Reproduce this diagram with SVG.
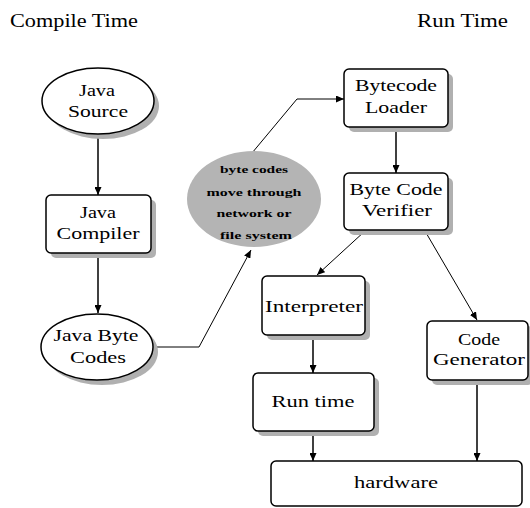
<svg xmlns="http://www.w3.org/2000/svg" width="530" height="508" viewBox="0 0 530 508">
<style>
text{font-family:"Liberation Serif","DejaVu Serif","Times New Roman",serif;font-size:17px;fill:#000;text-anchor:middle}
.hd{font-size:18px;text-anchor:start}
.sm{font-size:10px;font-weight:bold}
.box{fill:#fff;stroke:#000;stroke-width:1.5}
.sh{fill:#b0b0b0;stroke:none}
.cloud{fill:#b4b4b4;stroke:none}
.c{fill:none;stroke:#000;stroke-width:1.5}
.d{fill:none;stroke:#000;stroke-width:1}
</style>
<defs>
<marker id="ah" markerUnits="userSpaceOnUse" markerWidth="8" markerHeight="7" refX="8" refY="3.5" orient="auto">
<path d="M0,0 L8,3.5 L0,7 z" fill="#000"/>
</marker>
</defs>
<rect width="530" height="508" fill="#fff"/>
<text class="hd" x="10" y="27" textLength="128" lengthAdjust="spacingAndGlyphs">Compile Time</text>
<text class="hd" x="417" y="27" textLength="91" lengthAdjust="spacingAndGlyphs">Run Time</text>

<g id="connectors">
<line class="c" x1="98" y1="135" x2="98" y2="195" marker-end="url(#ah)"/>
<line class="c" x1="98" y1="253" x2="98" y2="313" marker-end="url(#ah)"/>
<polyline class="d" points="154,347 199,347 251,250" marker-end="url(#ah)"/>
<polyline class="d" points="252,153 297,99 344,99" marker-end="url(#ah)"/>
<line class="c" x1="396" y1="127" x2="396" y2="173" marker-end="url(#ah)"/>
<line class="d" x1="365" y1="231" x2="317" y2="275" marker-end="url(#ah)"/>
<line class="d" x1="425" y1="231" x2="477" y2="320" marker-end="url(#ah)"/>
<line class="c" x1="313" y1="335" x2="313" y2="373" marker-end="url(#ah)"/>
<line class="c" x1="313" y1="431" x2="313" y2="461" marker-end="url(#ah)"/>
<line class="c" x1="477" y1="380" x2="477" y2="461" marker-end="url(#ah)"/>
</g>

<g id="java-source">
<ellipse class="sh" cx="103" cy="106" rx="56" ry="33"/>
<ellipse class="box" cx="98" cy="101" rx="56" ry="33"/>
<text x="97" y="96" textLength="36" lengthAdjust="spacingAndGlyphs">Java</text>
<text x="98" y="117" textLength="60" lengthAdjust="spacingAndGlyphs">Source</text>
</g>

<g id="java-compiler">
<rect class="sh" x="51" y="200" width="105" height="58" rx="5"/>
<rect class="box" x="46" y="195" width="105" height="58" rx="5"/>
<text x="98" y="218" textLength="36" lengthAdjust="spacingAndGlyphs">Java</text>
<text x="98" y="239" textLength="83" lengthAdjust="spacingAndGlyphs">Compiler</text>
</g>

<g id="java-byte-codes">
<ellipse class="sh" cx="102" cy="352" rx="56" ry="33"/>
<ellipse class="box" cx="97" cy="347" rx="56" ry="33"/>
<text x="96" y="341" textLength="85" lengthAdjust="spacingAndGlyphs">Java Byte</text>
<text x="98" y="363" textLength="56" lengthAdjust="spacingAndGlyphs">Codes</text>
</g>

<g id="network">
<ellipse class="cloud" cx="254" cy="199" rx="67" ry="48"/>
<text class="sm" x="254" y="173" textLength="68" lengthAdjust="spacingAndGlyphs">byte codes</text>
<text class="sm" x="254" y="196" textLength="95" lengthAdjust="spacingAndGlyphs">move through</text>
<text class="sm" x="254" y="217" textLength="75" lengthAdjust="spacingAndGlyphs">network or</text>
<text class="sm" x="256" y="239" textLength="72" lengthAdjust="spacingAndGlyphs">file system</text>
</g>

<g id="bytecode-loader">
<rect class="sh" x="349" y="74" width="104" height="58" rx="5"/>
<rect class="box" x="344" y="69" width="104" height="58" rx="5"/>
<text x="396" y="91" textLength="82" lengthAdjust="spacingAndGlyphs">Bytecode</text>
<text x="396" y="113" textLength="62" lengthAdjust="spacingAndGlyphs">Loader</text>
</g>

<g id="byte-code-verifier">
<rect class="sh" x="349" y="178" width="104" height="57" rx="5"/>
<rect class="box" x="344" y="173" width="104" height="57" rx="5"/>
<text x="396" y="195" textLength="93" lengthAdjust="spacingAndGlyphs">Byte Code</text>
<text x="397" y="216" textLength="70" lengthAdjust="spacingAndGlyphs">Verifier</text>
</g>

<g id="interpreter">
<rect class="sh" x="267" y="281" width="103" height="59" rx="5"/>
<rect class="box" x="262" y="276" width="103" height="59" rx="5"/>
<text x="314" y="312" textLength="98" lengthAdjust="spacingAndGlyphs">Interpreter</text>
</g>

<g id="code-generator">
<rect class="sh" x="432" y="326" width="101" height="59" rx="5"/>
<rect class="box" x="427" y="321" width="101" height="59" rx="5"/>
<text x="479" y="345" textLength="42" lengthAdjust="spacingAndGlyphs">Code</text>
<text x="479" y="365" textLength="92" lengthAdjust="spacingAndGlyphs">Generator</text>
</g>

<g id="run-time">
<rect class="sh" x="258" y="378" width="121" height="58" rx="5"/>
<rect class="box" x="253" y="373" width="121" height="58" rx="5"/>
<text x="313" y="407" textLength="83" lengthAdjust="spacingAndGlyphs">Run time</text>
</g>

<g id="hardware">
<rect class="box" x="271" y="461" width="251" height="45" rx="5"/>
<text x="396" y="488" textLength="84" lengthAdjust="spacingAndGlyphs">hardware</text>
</g>
</svg>
